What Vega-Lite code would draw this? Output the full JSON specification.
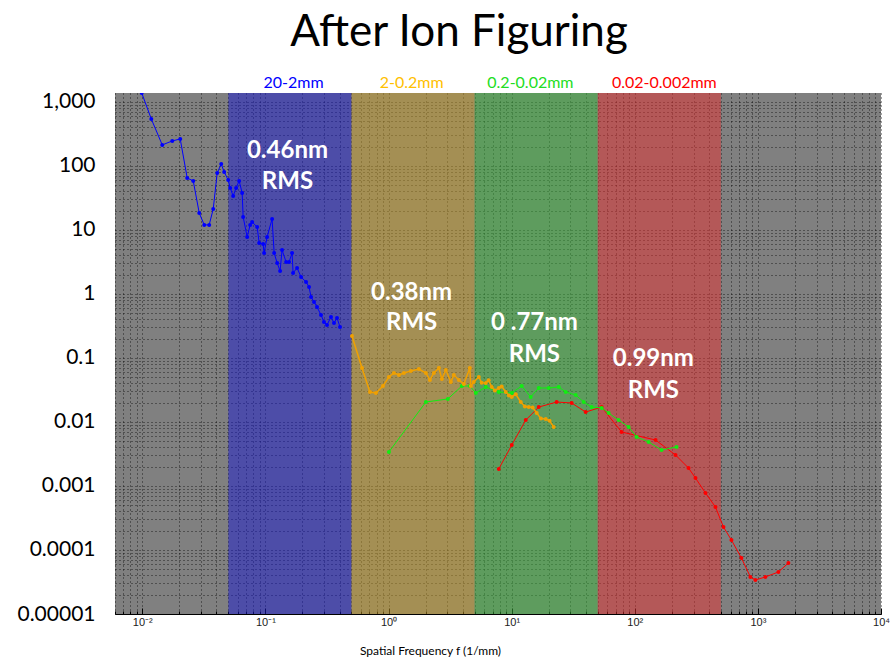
{
  "$schema": "https://vega.github.io/schema/vega-lite/v6.json",
  "width": 766,
  "height": 521,
  "autosize": "none",
  "padding": {"left": 115, "top": 93, "right": 13, "bottom": 44},
  "background": "white",
  "title": {"text": "After Ion Figuring", "font": "Lato", "fontSize": 44, "fontWeight": "normal", "color": "#000000", "anchor": "middle", "dx": -39, "offset": 20},
  "config": {"view": {"fill": "#808080", "stroke": null}},
  "datasets": {
    "bands": [
      {"f": 0.05, "f2": 0.5, "band": "20-2mm"},
      {"f": 0.5, "f2": 5, "band": "2-0.2mm"},
      {"f": 5, "f2": 50, "band": "0.2-0.02mm"},
      {"f": 50, "f2": 500, "band": "0.02-0.002mm"}
    ],
    "bandLabels": [
      {"f": 0.169, "p": 1980, "band": "20-2mm"},
      {"f": 1.54, "p": 1980, "band": "2-0.2mm"},
      {"f": 14.2, "p": 1980, "band": "0.2-0.02mm"},
      {"f": 174, "p": 1980, "band": "0.02-0.002mm"}
    ],
    "rms": [
      {"f": 0.151, "p": 171, "t": "0.46nm"},
      {"f": 0.151, "p": 56.2, "t": "RMS"},
      {"f": 1.54, "p": 1.04, "t": "0.38nm"},
      {"f": 1.54, "p": 0.352, "t": "RMS"},
      {"f": 15.3, "p": 0.352, "t": "0 .77nm"},
      {"f": 15.3, "p": 0.111, "t": "RMS"},
      {"f": 141.6, "p": 0.0965, "t": "0.99nm"},
      {"f": 141.6, "p": 0.0305, "t": "RMS"}
    ],
    "blue": [
      {"f": 0.00989, "p": 1380}, {"f": 0.01183, "p": 542}, {"f": 0.01452, "p": 213}, {"f": 0.0175, "p": 246},
      {"f": 0.02032, "p": 264}, {"f": 0.02315, "p": 64.9}, {"f": 0.02593, "p": 58.3}, {"f": 0.02899, "p": 18.4},
      {"f": 0.03184, "p": 12.0}, {"f": 0.03493, "p": 12.0}, {"f": 0.03767, "p": 21.3}, {"f": 0.04059, "p": 77.8},
      {"f": 0.04375, "p": 107}, {"f": 0.04624, "p": 80.6}, {"f": 0.04983, "p": 60.4}, {"f": 0.05176, "p": 45.3},
      {"f": 0.0547, "p": 34.0}, {"f": 0.05781, "p": 45.3}, {"f": 0.06118, "p": 58.3}, {"f": 0.06471, "p": 37.9},
      {"f": 0.06592, "p": 16.0}, {"f": 0.07107, "p": 7.78}, {"f": 0.07516, "p": 12.0}, {"f": 0.07798, "p": 13.3},
      {"f": 0.0857, "p": 11.1}, {"f": 0.08892, "p": 6.26}, {"f": 0.09578, "p": 6.04}, {"f": 0.09757, "p": 4.37},
      {"f": 0.1032, "p": 7.78}, {"f": 0.1133, "p": 14.9}, {"f": 0.1177, "p": 4.37}, {"f": 0.1245, "p": 3.05},
      {"f": 0.1316, "p": 2.29}, {"f": 0.1365, "p": 4.87}, {"f": 0.1472, "p": 3.16}, {"f": 0.1556, "p": 3.16},
      {"f": 0.1646, "p": 4.37}, {"f": 0.1677, "p": 2.13}, {"f": 0.1808, "p": 2.55}, {"f": 0.1948, "p": 1.84},
      {"f": 0.2138, "p": 1.54}, {"f": 0.2261, "p": 1.29}, {"f": 0.2347, "p": 0.898}, {"f": 0.2482, "p": 0.75},
      {"f": 0.2625, "p": 0.626}, {"f": 0.2828, "p": 0.47}, {"f": 0.2991, "p": 0.365}, {"f": 0.3163, "p": 0.328},
      {"f": 0.3409, "p": 0.437}, {"f": 0.3606, "p": 0.352}, {"f": 0.3815, "p": 0.422}, {"f": 0.4034, "p": 0.305}
    ],
    "orange": [
      {"f": 0.5047, "p": 0.221}, {"f": 0.6085, "p": 0.0698}, {"f": 0.7063, "p": 0.0294}, {"f": 0.7904, "p": 0.0284},
      {"f": 0.9007, "p": 0.0365}, {"f": 1.007, "p": 0.0505}, {"f": 1.106, "p": 0.0583}, {"f": 1.214, "p": 0.0543},
      {"f": 1.333, "p": 0.0583}, {"f": 1.519, "p": 0.0627}, {"f": 1.764, "p": 0.0673}, {"f": 2.011, "p": 0.0583},
      {"f": 2.167, "p": 0.0453}, {"f": 2.334, "p": 0.0583}, {"f": 2.564, "p": 0.0698}, {"f": 2.711, "p": 0.047},
      {"f": 2.921, "p": 0.0649}, {"f": 3.208, "p": 0.0422}, {"f": 3.392, "p": 0.0543}, {"f": 3.724, "p": 0.0453},
      {"f": 4.089, "p": 0.0392}, {"f": 4.573, "p": 0.0698}, {"f": 4.659, "p": 0.0365}, {"f": 4.926, "p": 0.0422},
      {"f": 5.41, "p": 0.0505}, {"f": 5.7, "p": 0.041}, {"f": 6.166, "p": 0.0407}, {"f": 6.5, "p": 0.045},
      {"f": 6.898, "p": 0.0352}, {"f": 7.3, "p": 0.031}, {"f": 7.861, "p": 0.034}, {"f": 8.3, "p": 0.036},
      {"f": 8.958, "p": 0.0294}, {"f": 9.5, "p": 0.026}, {"f": 10.02, "p": 0.0246}, {"f": 10.8, "p": 0.027},
      {"f": 11.85, "p": 0.0205}, {"f": 12.8, "p": 0.0175}, {"f": 13.76, "p": 0.0171}, {"f": 14.8, "p": 0.0168},
      {"f": 15.98, "p": 0.0138}, {"f": 17.3, "p": 0.0113}, {"f": 18.91, "p": 0.0111}, {"f": 20.3, "p": 0.0105},
      {"f": 21.95, "p": 0.00835}
    ],
    "green": [
      {"f": 1.007, "p": 0.0034}, {"f": 2.011, "p": 0.0205}, {"f": 3.032, "p": 0.0229}, {"f": 3.938, "p": 0.0365},
      {"f": 4.573, "p": 0.0365}, {"f": 5.115, "p": 0.0284}, {"f": 6.166, "p": 0.0352}, {"f": 7.861, "p": 0.0294},
      {"f": 10.02, "p": 0.0284}, {"f": 12.07, "p": 0.0365}, {"f": 14.28, "p": 0.0246}, {"f": 16.59, "p": 0.034},
      {"f": 20.0, "p": 0.034}, {"f": 24.1, "p": 0.0352}, {"f": 27.47, "p": 0.0294}, {"f": 33.11, "p": 0.0264},
      {"f": 38.44, "p": 0.0205}, {"f": 44.63, "p": 0.0171}, {"f": 53.8, "p": 0.0166}, {"f": 61.32, "p": 0.0138},
      {"f": 73.88, "p": 0.0107}, {"f": 89.05, "p": 0.00835}, {"f": 103.4, "p": 0.00583}, {"f": 129.4, "p": 0.00487},
      {"f": 165.0, "p": 0.00365}, {"f": 218.3, "p": 0.00407}
    ],
    "red": [
      {"f": 7.861, "p": 0.00185}, {"f": 10.02, "p": 0.00437}, {"f": 13.01, "p": 0.0107}, {"f": 16.59, "p": 0.0171},
      {"f": 23.2, "p": 0.0205}, {"f": 30.72, "p": 0.0198}, {"f": 39.9, "p": 0.0143}, {"f": 53.8, "p": 0.0171},
      {"f": 78.14, "p": 0.00698}, {"f": 147.5, "p": 0.00523}, {"f": 214.2, "p": 0.00305}, {"f": 273.2, "p": 0.00191},
      {"f": 311.3, "p": 0.00133}, {"f": 375.1, "p": 0.000778}, {"f": 452.1, "p": 0.00047}, {"f": 525.1, "p": 0.000229},
      {"f": 609.8, "p": 0.000143}, {"f": 734.8, "p": 0.000075}, {"f": 869.4, "p": 0.0000379}, {"f": 954.4, "p": 0.000034},
      {"f": 1150, "p": 0.0000379}, {"f": 1467, "p": 0.0000453}, {"f": 1768, "p": 0.0000626}
    ]
  },
  "layer": [
    {
      "data": {"name": "bands"},
      "mark": {"type": "rect", "opacity": 0.5},
      "encoding": {
        "x": {"field": "f", "type": "quantitative", "scale": {"type": "log", "domain": [0.006, 10000], "nice": false}},
        "x2": {"field": "f2"},
        "fill": {"field": "band", "type": "nominal", "legend": null,
          "scale": {"domain": ["20-2mm", "2-0.2mm", "0.2-0.02mm", "0.02-0.002mm"], "range": ["#1a1ad0", "#c89e28", "#3cb83c", "#e83030"]}}
      }
    },
    {
      "data": {"name": "red"},
      "mark": {"type": "line", "color": "#ff0000", "strokeWidth": 1, "clip": true, "point": {"filled": true, "size": 16, "color": "#ff0000"}},
      "encoding": {
        "x": {"field": "f", "type": "quantitative", "scale": {"type": "log", "domain": [0.006, 10000], "nice": false},
          "axis": {
            "values": [0.006,0.007,0.008,0.009,0.01,0.02,0.03,0.04,0.05,0.06,0.07,0.08,0.09,0.1,0.2,0.3,0.4,0.5,0.6,0.7,0.8,0.9,1,2,3,4,5,6,7,8,9,10,20,30,40,50,60,70,80,90,100,200,300,400,500,600,700,800,900,1000,2000,3000,4000,5000,6000,7000,8000,9000,10000],
            "labelExpr": "abs(log(datum.value)/LN10 - round(log(datum.value)/LN10)) < 0.001 ? '10' + ['⁻²','⁻¹','⁰','¹','²','³','⁴'][round(log(datum.value)/LN10)+2] : ''",
            "labelOverlap": false, "labelFlush": false,
            "grid": true, "gridColor": "#000000", "gridDash": [1, 3], "gridOpacity": 0.75,
            "domain": true, "domainColor": "#000000",
            "ticks": true, "tickColor": "#000000",
            "tickSize": {"condition": {"test": "abs(log(datum.value)/LN10 - round(log(datum.value)/LN10)) < 0.001", "value": -6}, "value": -3},
            "labelFont": "Liberation Sans", "labelFontSize": 11, "labelColor": "#222222", "labelPadding": 8,
            "title": "Spatial Frequency f (1/mm)", "titleFont": "Lato", "titleFontSize": 12, "titleFontWeight": "normal", "titleColor": "#000000",
            "titleX": 315, "titleY": 36, "titleBaseline": "middle"
          }
        },
        "y": {"field": "p", "type": "quantitative", "scale": {"type": "log", "domain": [0.00001, 1380], "nice": false},
          "axis": {
            "values": [0.00001,0.00002,0.00003,0.00004,0.00005,0.00006,0.00007,0.00008,0.00009,0.0001,0.0002,0.0003,0.0004,0.0005,0.0006,0.0007,0.0008,0.0009,0.001,0.002,0.003,0.004,0.005,0.006,0.007,0.008,0.009,0.01,0.02,0.03,0.04,0.05,0.06,0.07,0.08,0.09,0.1,0.2,0.3,0.4,0.5,0.6,0.7,0.8,0.9,1,2,3,4,5,6,7,8,9,10,20,30,40,50,60,70,80,90,100,200,300,400,500,600,700,800,900,1000],
            "labelExpr": "abs(log(datum.value)/LN10 - round(log(datum.value)/LN10)) < 0.001 ? (datum.value >= 1 ? format(datum.value, ',') : format(datum.value, '.' + (-round(log(datum.value)/LN10)) + 'f')) : ''",
            "labelOverlap": false, "labelFlush": false,
            "grid": true, "gridColor": "#000000", "gridDash": [1, 3], "gridOpacity": 0.75,
            "domain": false, "ticks": false,
            "labelFont": "Lato", "labelFontSize": 21, "labelColor": "#000000", "labelPadding": 20,
            "title": null
          }
        }
      }
    },
    {
      "data": {"name": "green"},
      "mark": {"type": "line", "color": "#11ee11", "strokeWidth": 1, "clip": true, "point": {"filled": true, "size": 16, "color": "#11ee11"}},
      "encoding": {
        "x": {"field": "f", "type": "quantitative"},
        "y": {"field": "p", "type": "quantitative"}
      }
    },
    {
      "data": {"name": "orange"},
      "mark": {"type": "line", "color": "#f0a000", "strokeWidth": 1.5, "clip": true, "point": {"filled": true, "size": 16, "color": "#f0a000"}},
      "encoding": {
        "x": {"field": "f", "type": "quantitative"},
        "y": {"field": "p", "type": "quantitative"}
      }
    },
    {
      "data": {"name": "blue"},
      "mark": {"type": "line", "color": "#0000ff", "strokeWidth": 1, "clip": true, "point": {"filled": true, "size": 16, "color": "#0000ff"}},
      "encoding": {
        "x": {"field": "f", "type": "quantitative"},
        "y": {"field": "p", "type": "quantitative"}
      }
    },
    {
      "data": {"name": "rms"},
      "mark": {"type": "text", "font": "Lato", "fontSize": 24, "fontWeight": "bold", "color": "#ffffff", "baseline": "middle", "align": "center"},
      "encoding": {
        "x": {"field": "f", "type": "quantitative"},
        "y": {"field": "p", "type": "quantitative"},
        "text": {"field": "t"}
      }
    },
    {
      "data": {"name": "bandLabels"},
      "mark": {"type": "text", "font": "Lato", "fontSize": 16, "baseline": "middle", "align": "center"},
      "encoding": {
        "x": {"field": "f", "type": "quantitative"},
        "y": {"field": "p", "type": "quantitative"},
        "text": {"field": "band"},
        "color": {"field": "band", "type": "nominal", "legend": null,
          "scale": {"domain": ["20-2mm", "2-0.2mm", "0.2-0.02mm", "0.02-0.002mm"], "range": ["#0000ff", "#ffc000", "#22dd22", "#ff0000"]}}
      }
    }
  ]
}
